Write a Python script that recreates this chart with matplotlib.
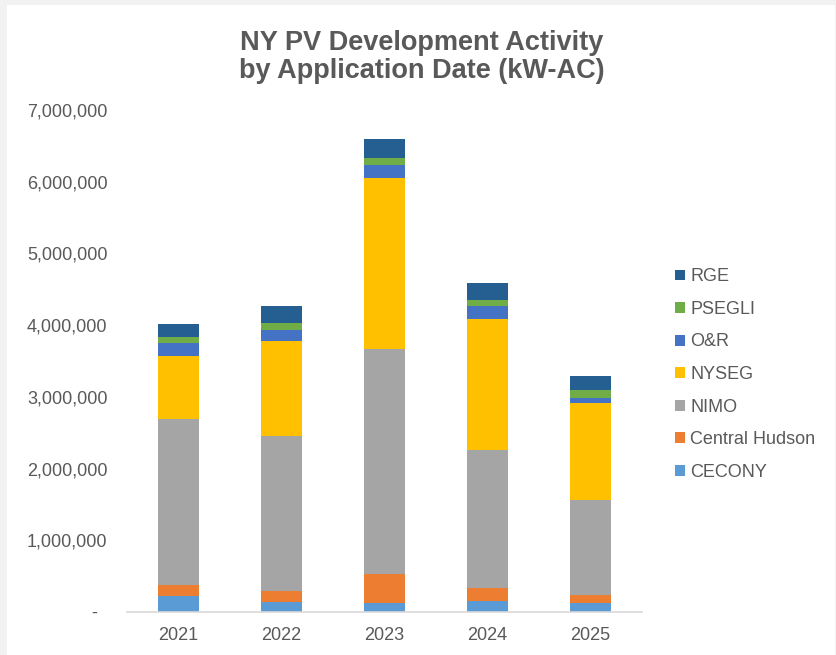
import matplotlib
matplotlib.use("Agg")
import matplotlib.pyplot as plt
from matplotlib.patches import Rectangle, Patch
import numpy as np

plt.rcParams['font.family'] = ['Liberation Sans', 'DejaVu Sans']

years = ["2021", "2022", "2023", "2024", "2025"]
series_names = ["CECONY", "Central Hudson", "NIMO", "NYSEG", "O&R", "PSEGLI", "RGE"]
cecony = [220000, 135000, 131000, 149000, 131000]
central_hudson = [163000, 153000, 404000, 191000, 102000]
nimo = [2305000, 2166000, 3128000, 1925000, 1335000]
nyseg = [879000, 1325000, 2395000, 1827000, 1347000]
o_and_r = [190000, 149000, 176000, 172000, 75000]
psegli = [78000, 107000, 98000, 84000, 102000]
rge = [187000, 227000, 257000, 233000, 195000]
colors = ["#5B9BD5", "#ED7D31", "#A5A5A5", "#FFC000", "#4472C4", "#70AD47", "#255E91"]
yticks = [0, 1000000, 2000000, 3000000, 4000000, 5000000, 6000000, 7000000]

series = [cecony, central_hudson, nimo, nyseg, o_and_r, psegli, rge]
text_color = "#595959"

W, H = 836, 655
fig = plt.figure(figsize=(W / 100, H / 100), dpi=100)
fig.patch.set_facecolor("#F2F2F2")
fig.patches.append(Rectangle((7 / W, 0), (835 - 7) / W, 650 / H,
                             transform=fig.transFigure, facecolor="white",
                             edgecolor="none", zorder=-5))

ax = fig.add_axes([127 / W, 1 - 612 / H, (642 - 127) / W, (612 - 110) / H])
ax.set_zorder(1)
ax.set_facecolor("none")
x = np.arange(len(years))
bottom = np.zeros(len(years))
handles = []
for name, vals, c in zip(series_names, series, colors):
    ax.bar(x, vals, width=0.4, bottom=bottom, color=c, label=name, zorder=2)
    bottom += np.array(vals)
    handles.append(Patch(facecolor=c, label=name))

ax.set_xlim(-0.5, len(years) - 0.5)
ax.set_ylim(0, 7000000)
ax.set_xticks(x)
ax.set_xticklabels(years)
ax.set_yticks(yticks)
ax.set_yticklabels(["-  "] + [f"{v:,}" for v in yticks[1:]])
ax.tick_params(axis="both", length=0, labelsize=13, labelcolor=text_color)
ax.tick_params(axis="y", pad=14)
ax.tick_params(axis="x", pad=11)
for s in ["top", "right", "left"]:
    ax.spines[s].set_visible(False)
ax.spines["bottom"].set_color("#D9D9D9")
ax.spines["bottom"].set_linewidth(1.2)

leg = fig.legend(handles=handles[::-1], loc="center left",
                 bbox_to_anchor=(675 / W, 1 - 374.5 / H), frameon=False,
                 fontsize=13, handlelength=0.55, handleheight=0.55,
                 handletextpad=0.3, labelspacing=0.86, borderpad=0,
                 borderaxespad=0)
for t in leg.get_texts():
    t.set_color(text_color)

fig.text(422 / W, 1 - 57 / H, "NY PV Development Activity\nby Application Date (kW-AC)",
         ha="center", va="center", fontsize=19.5, fontweight="bold",
         color=text_color, linespacing=1.15)

fig.savefig("out.png", dpi=100, facecolor=fig.get_facecolor())
